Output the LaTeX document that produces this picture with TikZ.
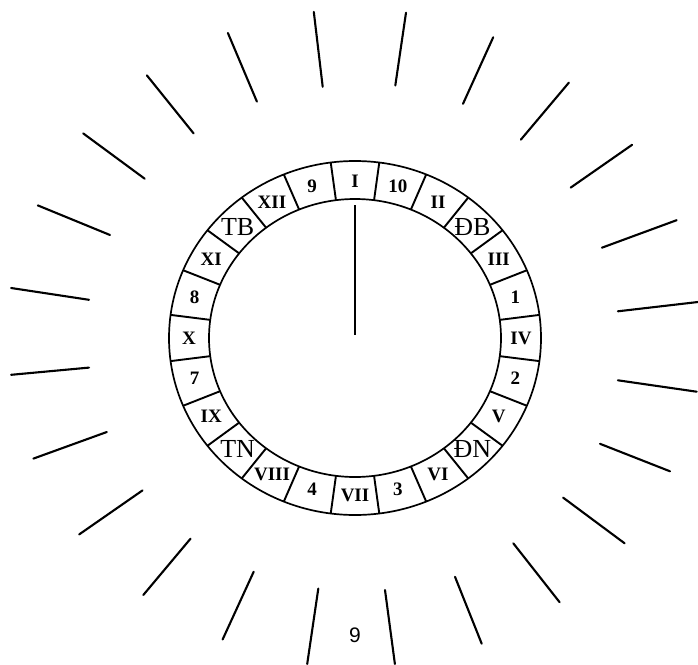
\documentclass[tikz,border=0pt]{standalone}
\usepackage{fontspec}
\setmainfont{Liberation Serif}
\newfontfamily\pgsans{Liberation Sans}
\begin{document}
\begin{tikzpicture}[x=1pt,y=-1pt,
  ray/.style={line width=2.1pt, line cap=round},
  ringline/.style={line width=1.7pt},
  divider/.style={line width=1.9pt},
  rn/.style={font=\bfseries\fontsize{19}{19}\selectfont, inner sep=0pt},
  big/.style={font=\fontsize{26}{26}\selectfont, inner sep=0pt},
  pagenum/.style={font=\pgsans\fontsize{21}{21}\selectfont, inner sep=0pt},
  hand/.style={line width=1.8pt}]
\useasboundingbox (0,0) rectangle (698,664);
\coordinate (c) at (355,338);
% ring
\draw[ringline] (c) ellipse [x radius=186pt, y radius=177pt];
\draw[ringline] (c) ellipse [x radius=146pt, y radius=139pt];
\begin{scope}[shift={(c)}]
  \foreach \k in {0,...,23}{
    \draw[divider] ({97.5-15*\k}:146pt and 139pt) -- ({97.5-15*\k}:186pt and 177pt);
  }
  \foreach \t/\s [count=\k from 0] in {I/rn,10/rn,II/rn,ĐB/big,III/rn,1/rn,IV/rn,2/rn,V/rn,ĐN/big,VI/rn,3/rn,VII/rn,4/rn,VIII/rn,TN/big,IX/rn,7/rn,X/rn,8/rn,XI/rn,TB/big,XII/rn,9/rn}{
    \node[style=\s] (l\k) at ({90-15*\k}:166pt and 157pt) {\t};
  }
\end{scope}
% hand
\coordinate (h1) at (355,205);
\coordinate (h2) at (355,335);
\draw[hand] (h1) -- (h2);
% rays
\foreach \a/\b/\c/\d in {
 313.8/11.9/322.7/86.8,
 406/12.7/395.3/85.5,
 493.2/37.3/463/103.8,
 568.9/82.6/520.8/139.7,
 632.1/144.8/570.7/187.6,
 676.6/220.2/601.9/247.7,
 698/302/617.9/311.3,
 617.9/380.3/696.7/391.7,
 600/443.8/670/471.3,
 563.1/497.6/624.6/543.3,
 513.3/543.3/559.6/602.2,
 455/576.8/481.7/643.7,
 385/590/394.9/664,
 318.3/588.6/307.2/664,
 253.7/571.7/222.6/639.5,
 190.5/538.7/143.3/595,
 142.5/490.4/79.2/534.4,
 106.8/432/33.4/458.6,
 89/367.6/11.1/374.8,
 11.1/288/89/299.8,
 37.8/205.4/110/235,
 83.2/133.4/144.7/178.7,
 146.9/75.4/193.6/133.4,
 227.9/33/256.9/101.6}{
  \draw[ray] (\a,\b) -- (\c,\d);
}
% page number
\node[pagenum] (pg) at (355,635) {9};
\end{tikzpicture}
\end{document}
